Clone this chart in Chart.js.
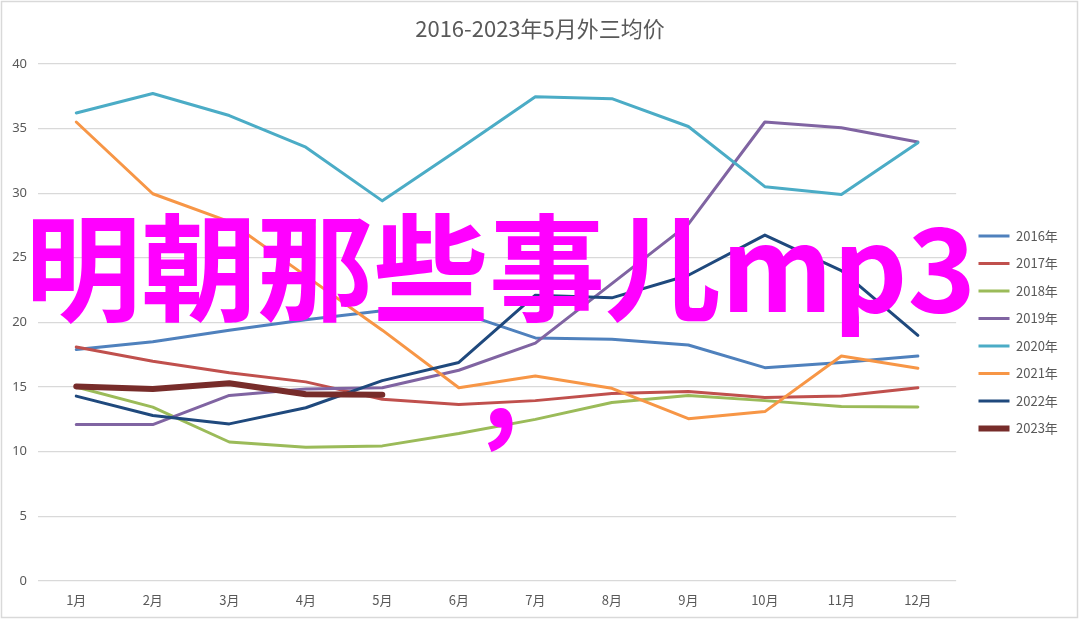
<!DOCTYPE html>
<html>
<head>
<meta charset="utf-8">
<script src="https://cdn.jsdelivr.net/npm/chart.js@4.4.1/dist/chart.umd.min.js"></script>
<style>
  html, body { margin: 0; padding: 0; background: #ffffff; }
  #wrap { width: 1080px; height: 622px; position: relative; }
</style>
</head>
<body>
<div id="wrap"><canvas id="c" width="1080" height="622"></canvas></div>
<script>
const titleText = '2016-2023年5月外三均价';
const months = ['1月','2月','3月','4月','5月','6月','7月','8月','9月','10月','11月','12月'];
const seriesNames = ['2016年','2017年','2018年','2019年','2020年','2021年','2022年','2023年'];
const y2016 = [17.9, 18.5, 19.4, 20.2, 20.9, 20.8, 18.8, 18.7, 18.25, 16.5, 16.9, 17.4];
const y2017 = [18.1, 17.0, 16.1, 15.4, 14.05, 13.65, 13.95, 14.5, 14.65, 14.2, 14.3, 14.95];
const y2018 = [15.0, 13.45, 10.75, 10.35, 10.45, 11.4, 12.5, 13.8, 14.35, 13.95, 13.5, 13.45];
const y2019 = [12.1, 12.1, 14.35, 14.85, 14.95, 16.3, 18.4, 23.0, 27.6, 35.5, 35.05, 33.95];
const y2020 = [36.2, 37.7, 36.0, 33.55, 29.4, 33.4, 37.45, 37.3, 35.15, 30.5, 29.9, 33.9];
const y2021 = [35.5, 29.95, 27.8, 23.6, 19.4, 14.95, 15.85, 14.9, 12.55, 13.1, 17.4, 16.45];
const y2022 = [14.3, 12.8, 12.15, 13.4, 15.5, 16.9, 22.1, 21.9, 23.65, 26.75, 24.0, 19.0];
const y2023 = [15.05, 14.85, 15.3, 14.45, 14.4];
const yTicks = [0, 5, 10, 15, 20, 25, 30, 35, 40];
const overlayText = '明朝那些事儿mp3';
const overlayComma = ',';

const colors = ['#4f81bd','#c0504d','#9bbb59','#8064a2','#4bacc6','#f79646','#1f497d','#772c2a'];
const widths = [3, 3, 3, 3, 3, 3, 3, 6];
const values = [y2016, y2017, y2018, y2019, y2020, y2021, y2022, y2023];

const datasets = seriesNames.map((name, i) => ({
  label: name,
  data: values[i],
  borderColor: colors[i],
  backgroundColor: colors[i],
  borderWidth: widths[i],
  pointRadius: 0,
  pointHoverRadius: 0,
  tension: 0,
  fill: false,
  borderJoinStyle: 'round',
  borderCapStyle: 'round',
  order: seriesNames.length - i
}));

const legendPad = 14.5;

const placer = {
  id: 'placer',
  afterLayout(chart) {
    const tb = chart.titleBlock;
    if (tb) { tb.left = 0; tb.right = chart.width; tb.width = chart.width; }
    const lg = chart.legend;
    if (!lg || !lg.columnSizes || !lg.columnSizes.length) return;
    const dx = 978.5 - (lg.left + legendPad);
    lg.left += dx; lg.right += dx;
    const curY = (lg.top + legendPad + lg.bottom - lg.columnSizes[0].height) / 2;
    const dy = 229.5 - curY;
    lg.top += dy; lg.bottom += dy;
    if (lg.adjustHitBoxes) lg.adjustHitBoxes();
  }
};

const frameAndOverlay = {
  id: 'frameAndOverlay',
  afterDraw(chart) {
    const ctx = chart.ctx;
    ctx.save();
    ctx.fillStyle = '#ff00ff';
    ctx.font = 'bold 116px "Noto Sans CJK SC"';
    ctx.textBaseline = 'alphabetic';
    ctx.textAlign = 'left';
    ctx.fillText(overlayText, 25, 312);
    ctx.font = 'bold 112px "Noto Sans CJK SC"';
    ctx.fillText(overlayComma, 482, 428);
    ctx.strokeStyle = '#d9d9d9';
    ctx.lineWidth = 1.5;
    ctx.strokeRect(1.5, 1.5, 1076, 616);
    ctx.restore();
  }
};

new Chart(document.getElementById('c'), {
  type: 'line',
  data: { labels: months, datasets: datasets },
  options: {
    responsive: false,
    animation: false,
    devicePixelRatio: 1,
    layout: { padding: { left: 0, right: 20, top: 0, bottom: 0 } },
    plugins: {
      title: {
        display: true,
        text: titleText,
        color: '#595959',
        font: { family: '"Noto Sans CJK SC", "Noto Sans"', size: 22, weight: 'normal' },
        padding: { top: 15, bottom: 22.4 }
      },
      legend: {
        display: true,
        position: 'right',
        align: 'center',
        labels: {
          usePointStyle: true,
          pointStyle: 'line',
          pointStyleWidth: 31,
          boxHeight: 13,
          padding: legendPad,
          color: '#595959',
          font: { family: '"Noto Sans CJK SC", "Noto Sans"', size: 13 },
          sort: (a, b) => a.datasetIndex - b.datasetIndex
        }
      },
      tooltip: { enabled: false }
    },
    scales: {
      x: {
        offset: true,
        grid: { display: false, drawTicks: false },
        border: { display: false },
        ticks: {
          color: '#595959',
          font: { family: '"Noto Sans CJK SC", "Noto Sans"', size: 13 },
          padding: 11,
          maxRotation: 0,
          autoSkip: false
        },
        afterFit(s) { s.height = 41; }
      },
      y: {
        min: 0,
        max: 40,
        afterBuildTicks(s) { s.ticks = yTicks.map(v => ({ value: v })); },
        grid: { color: '#d9d9d9', lineWidth: 1.2, drawTicks: false },
        border: { display: false },
        ticks: {
          color: '#595959',
          font: { family: '"Noto Sans", "Noto Sans CJK SC"', size: 13 },
          padding: 11
        },
        afterFit(s) { s.width = 38; }
      }
    }
  },
  plugins: [placer, frameAndOverlay]
});
</script>
</body>
</html>
